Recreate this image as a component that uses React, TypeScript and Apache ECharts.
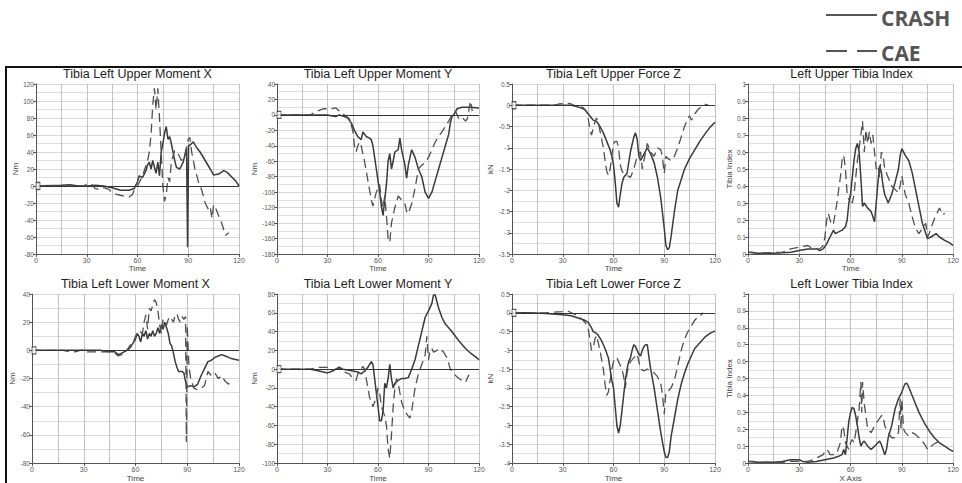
import React, { useEffect, useRef } from "react";
import * as echarts from "echarts";

// ---------- DATA ----------
const titles = [
  "Tibia Left Upper Moment X",
  "Tibia Left Upper Moment Y",
  "Tibia Left Upper Force Z",
  "Left Upper Tibia Index",
  "Tibia Left Lower Moment X",
  "Tibia Left Lower Moment Y",
  "Tibia Left Lower Force Z",
  "Left Lower Tibia Index",
];
const yNames = ["Nm", "Nm", "kN", "Tibia Index", "Nm", "Nm", "kN", "Tibia Index"];
const xNames = ["Time", "Time", "Time", "Time", "Time", "Time", "Time", "X Axis"];
const yMins = [-80, -180, -3.5, 0, -80, -100, -4, 0];
const yMaxs = [120, 40, 0.5, 1, 40, 80, 0.5, 1];
const yIntervals = [20, 20, 0.5, 0.1, 20, 20, 0.5, 0.1];
const timeMin = 0;
const timeMax = 120;
const timeInterval = 30;
const legendNames = ["CRASH", "CAE"];

const upperMxCrash = [[0,0],[15,1],[20,1.5],[25,0],[30,0],[35,1],[40,0],[45,-2],[50,-5],[55,-5],[58,-3],[60,5],[61,12],[63,10],[65,18],[66,25],[67,28],[68,20],[69,30],[70,22],[71,15],[72,28],[73,12],[74,40],[75,50],[76,62],[77,70],[78,55],[79,58],[80,50],[81,40],[82,30],[83,22],[85,20],[87,28],[89,45],[89.6,-72],[90.2,48],[91,48],[93,52],[95,45],[97,40],[100,30],[103,20],[105,13],[108,14],[111,18],[113,16],[116,10],[118,6],[120,0]];
const upperMxCae = [[0,0],[28,0],[30,2],[33,2],[35,-3],[38,-4],[40,-2],[43,-4],[45,-8],[48,-10],[52,-12],[55,-13],[57,-10],[58,-5],[60,0],[63,12],[66,30],[67,40],[68,60],[69,95],[70,115],[71,90],[72,115],[73,80],[74,40],[75,0],[76,-18],[77,-10],[78,10],[79,5],[80,28],[82,42],[84,38],[86,30],[88,35],[90,55],[91,57],[92,40],[94,20],[96,5],[98,-5],[100,-20],[102,-28],[103,-25],[104,-38],[105,-22],[106,-25],[108,-35],[110,-45],[112,-58],[114,-55]];

const upperMyCrash = [[0,0],[30,0],[32,-1],[35,-2],[37,0],[40,-2],[42,-4],[44,-10],[46,-20],[48,-28],[50,-32],[51,-22],[53,-28],[55,-30],[56,-32],[57,-40],[58,-55],[59,-70],[60,-85],[61,-100],[62,-118],[63,-130],[64,-110],[65,-90],[66,-60],[67,-50],[68,-70],[69,-60],[70,-48],[72,-45],[73,-30],[74,-45],[76,-65],[77,-82],[78,-65],[80,-45],[81,-50],[82,-55],[84,-70],[86,-80],[88,-100],[90,-108],[92,-100],[94,-85],[96,-70],[98,-55],[100,-40],[102,-25],[103,-10],[104,-2],[105,0],[107,8],[110,10],[115,10],[120,9]];
const upperMyCae = [[0,0],[20,0],[22,3],[25,6],[28,8],[32,8],[35,9],[37,5],[40,0],[43,-5],[45,-20],[46,-40],[47,-48],[48,-40],[49,-35],[50,-40],[52,-60],[54,-85],[56,-110],[57,-118],[58,-108],[59,-100],[60,-95],[61,-90],[62,-110],[63,-120],[64,-105],[65,-130],[66,-160],[67,-165],[68,-140],[70,-120],[72,-105],[74,-110],[76,-115],[77,-125],[78,-128],[80,-115],[82,-95],[84,-70],[86,-65],[88,-62],[90,-55],[92,-45],[94,-35],[96,-28],[98,-22],[100,-15],[102,-8],[104,0],[105,3],[106,5],[108,-5],[110,-3],[112,-8],[113,-5],[115,18],[116,5]];

const upperFzCrash = [[0,0],[35,0],[38,-0.03],[40,-0.05],[43,-0.1],[45,-0.2],[47,-0.3],[48,-0.35],[50,-0.38],[52,-0.5],[54,-0.65],[56,-0.85],[58,-1.05],[59,-1.2],[60,-1.4],[61,-1.8],[62,-2.3],[63,-2.4],[64,-2.1],[65,-1.85],[66,-1.7],[68,-1.6],[70,-1.1],[72,-0.75],[73,-0.65],[74,-0.8],[75,-1.2],[76,-1.3],[78,-1.15],[80,-1.0],[82,-1.15],[84,-1.35],[86,-1.7],[88,-2.2],[90,-2.9],[91,-3.3],[92,-3.4],[93,-3.35],[94,-3.1],[96,-2.5],[98,-2.0],[100,-1.75],[102,-1.5],[105,-1.25],[108,-1.05],[111,-0.85],[114,-0.68],[117,-0.52],[120,-0.4]];
const upperFzCae = [[0,0],[25,0],[28,0.03],[32,0.05],[35,0.03],[38,-0.02],[42,-0.05],[44,-0.15],[45,-0.3],[46,-0.55],[47,-0.7],[48,-0.55],[49,-0.4],[50,-0.3],[51,-0.4],[52,-0.6],[54,-1.0],[55,-1.3],[56,-1.55],[57,-1.65],[58,-1.5],[59,-1.2],[60,-0.9],[61,-0.85],[62,-0.85],[63,-1.0],[64,-1.4],[65,-1.55],[66,-1.6],[68,-1.65],[70,-1.7],[72,-1.5],[74,-1.2],[76,-1.1],[77,-1.5],[78,-1.3],[79,-1.1],[80,-0.9],[82,-1.1],[84,-1.2],[85,-1.1],[86,-1.0],[88,-1.05],[89,-1.25],[90,-1.6],[91,-1.2],[92,-1.25],[94,-1.3],[96,-1.2],[98,-1.0],[100,-0.75],[102,-0.5],[104,-0.3],[105,-0.25],[106,-0.35],[107,-0.3],[108,-0.2],[110,-0.1],[112,-0.03],[114,0.02],[116,0.0]];

const upperTiCrash = [[0,0.01],[2,0.01],[5,0.005],[15,0.005],[25,0.01],[30,0.02],[35,0.03],[40,0.03],[42,0.02],[44,0.03],[46,0.06],[48,0.1],[50,0.14],[51,0.12],[53,0.13],[55,0.14],[57,0.16],[58,0.2],[59,0.3],[60,0.35],[61,0.45],[62,0.55],[63,0.62],[64,0.65],[65,0.6],[66,0.45],[67,0.28],[68,0.3],[70,0.27],[72,0.25],[73,0.22],[74,0.19],[75,0.3],[76,0.42],[77,0.52],[78,0.48],[79,0.4],[80,0.35],[82,0.3],[84,0.35],[86,0.42],[88,0.5],[89,0.58],[90,0.62],[92,0.58],[94,0.55],[96,0.48],[98,0.38],[100,0.28],[102,0.18],[104,0.12],[105,0.09],[107,0.1],[110,0.12],[112,0.1],[115,0.08],[118,0.065],[120,0.05]];
const upperTiCae = [[0,0.01],[5,0.005],[20,0.01],[25,0.03],[30,0.04],[35,0.05],[38,0.03],[42,0.03],[44,0.05],[45,0.1],[46,0.2],[47,0.24],[48,0.2],[49,0.17],[50,0.18],[52,0.3],[54,0.45],[55,0.55],[56,0.58],[57,0.5],[58,0.35],[59,0.32],[60,0.35],[61,0.3],[62,0.35],[63,0.45],[64,0.55],[65,0.62],[66,0.7],[67,0.78],[68,0.6],[69,0.73],[70,0.65],[71,0.72],[72,0.65],[73,0.7],[74,0.6],[75,0.5],[76,0.52],[77,0.45],[78,0.6],[79,0.58],[80,0.5],[82,0.45],[84,0.4],[86,0.38],[88,0.36],[89,0.4],[90,0.46],[91,0.4],[92,0.35],[94,0.3],[96,0.22],[98,0.15],[100,0.12],[102,0.15],[104,0.18],[105,0.1],[106,0.12],[108,0.18],[110,0.23],[112,0.27],[113,0.25],[114,0.23],[115,0.24]];

const lowerMxCrash = [[0,0],[40,0],[42,-0.5],[45,-1],[48,-1],[50,-3],[52,-2],[55,0],[57,2],[58,4],[60,8],[61,12],[62,10],[63,6],[64,12],[65,10],[66,14],[67,8],[68,12],[69,10],[70,14],[71,10],[72,12],[73,16],[74,12],[75,18],[76,15],[77,20],[78,16],[79,12],[80,5],[81,3],[82,-2],[83,-8],[84,-12],[85,-15],[87,-15],[88,-16],[89,-22],[90,-26],[92,-25],[94,-26],[96,-24],[98,-18],[100,-13],[102,-8],[104,-7],[106,-5],[108,-4],[110,-3],[112,-4],[114,-5],[116,-6],[120,-7]];
const lowerMxCae = [[0,0],[18,0],[20,-0.5],[25,-1],[28,0],[30,0.5],[32,-1],[35,-1],[40,-1],[45,-1],[48,-2],[50,-4],[52,-3],[55,0],[57,4],[58,3],[60,10],[62,14],[64,12],[65,20],[66,25],[67,15],[68,30],[69,28],[70,32],[71,36],[72,34],[73,28],[74,18],[75,12],[76,22],[78,18],[79,22],[80,24],[81,22],[82,20],[83,25],[84,26],[85,22],[86,20],[87,24],[88,22],[89,24],[89.5,-65],[90,18],[91,-12],[92,-20],[94,-27],[96,-28],[98,-27],[100,-25],[101,-20],[102,-15],[104,-18],[106,-16],[108,-20],[110,-18],[112,-22],[114,-24],[115,-22]];

const lowerMyCrash = [[0,0],[20,0],[25,-2],[30,-4],[33,-2],[35,0],[37,2],[39,0],[42,-1],[45,-2],[48,-3],[50,-5],[52,-2],[54,2],[56,8],[57,5],[58,-10],[59,-25],[60,-40],[61,-55],[62,-55],[63,-45],[64,-15],[65,-20],[66,-10],[67,5],[68,-10],[69,-20],[70,-15],[72,-12],[74,-10],[76,-10],[78,-9],[80,0],[82,10],[84,25],[86,40],[88,55],[90,62],[92,70],[93,79],[94,79],[95,72],[96,65],[98,55],[100,48],[103,42],[106,35],[109,28],[112,22],[115,17],[118,13],[120,10]];
const lowerMyCae = [[0,0],[20,0],[25,2],[30,2],[33,-1],[35,0],[37,1],[40,-3],[43,-5],[45,-10],[47,-12],[48,-5],[49,-3],[51,3],[52,0],[53,-10],[55,-30],[56,-35],[57,-40],[58,-35],[59,-30],[60,-20],[61,-25],[62,-40],[64,-50],[65,-60],[66,-85],[67,-95],[68,-70],[69,-40],[70,-20],[71,-10],[72,-15],[74,-35],[76,-45],[78,-50],[79,-52],[80,-45],[82,-20],[84,-5],[86,5],[88,15],[89,35],[90,10],[91,20],[92,22],[93,18],[95,20],[97,22],[99,18],[101,12],[103,0],[105,-5],[108,-10],[110,-12],[112,-14],[114,-6]];

const lowerFzCrash = [[0,0],[10,0],[20,-0.02],[30,-0.05],[35,-0.08],[40,-0.15],[43,-0.2],[45,-0.25],[47,-0.4],[48,-0.5],[50,-0.55],[51,-0.6],[53,-0.75],[55,-0.95],[57,-1.2],[58,-1.5],[59,-1.8],[60,-2.0],[61,-2.5],[62,-3.0],[63,-3.2],[64,-3.0],[65,-2.6],[66,-2.2],[67,-1.8],[68,-1.5],[69,-1.3],[70,-1.2],[71,-1.0],[72,-0.85],[73,-0.9],[74,-1.0],[75,-1.1],[76,-1.15],[77,-1.0],[78,-0.9],[79,-0.85],[80,-0.85],[81,-1.2],[82,-1.5],[84,-2.0],[86,-2.6],[88,-3.2],[90,-3.7],[91,-3.85],[92,-3.85],[93,-3.7],[94,-3.3],[96,-2.8],[98,-2.3],[100,-1.9],[102,-1.6],[104,-1.35],[106,-1.15],[108,-0.95],[110,-0.85],[112,-0.75],[114,-0.65],[117,-0.55],[120,-0.48]];
const lowerFzCae = [[0,0],[20,0],[25,0.02],[30,0.03],[33,0.05],[35,0.0],[38,-0.05],[40,-0.12],[42,-0.2],[44,-0.3],[45,-0.4],[46,-0.7],[47,-1.0],[48,-0.95],[49,-0.7],[50,-0.6],[51,-0.8],[52,-1.0],[54,-1.5],[55,-1.9],[56,-2.2],[57,-2.1],[58,-1.8],[59,-1.5],[60,-1.3],[61,-1.2],[62,-1.2],[63,-1.3],[65,-1.5],[66,-1.7],[67,-2.0],[68,-1.6],[69,-1.4],[70,-1.3],[72,-1.2],[74,-1.1],[75,-1.3],[76,-1.5],[78,-1.55],[80,-1.5],[82,-1.55],[84,-1.6],[86,-1.7],[88,-1.9],[89,-2.2],[90,-2.7],[91,-2.1],[92,-2.1],[94,-2.0],[96,-1.8],[98,-1.4],[100,-1.0],[102,-0.7],[104,-0.5],[106,-0.35],[108,-0.2],[110,-0.1],[112,-0.05],[113,0.0]];

const lowerTiCrash = [[0,0.01],[3,0.01],[5,0.005],[15,0.005],[20,0.01],[25,0.02],[30,0.02],[32,0.01],[35,0.005],[40,0.01],[45,0.02],[50,0.03],[53,0.04],[55,0.05],[56,0.08],[57,0.05],[58,0.15],[59,0.25],[60,0.3],[61,0.33],[62,0.32],[63,0.28],[64,0.22],[65,0.15],[66,0.1],[67,0.12],[68,0.13],[70,0.1],[72,0.08],[74,0.1],[76,0.12],[77,0.13],[78,0.11],[79,0.08],[80,0.05],[81,0.08],[82,0.15],[84,0.22],[86,0.32],[88,0.38],[90,0.42],[91,0.45],[92,0.47],[93,0.47],[94,0.45],[96,0.4],[98,0.35],[100,0.3],[103,0.24],[106,0.19],[109,0.15],[112,0.12],[115,0.1],[118,0.08],[120,0.07]];
const lowerTiCae = [[0,0.01],[5,0.005],[20,0.005],[25,0.01],[35,0.01],[38,0.02],[40,0.03],[42,0.04],[44,0.05],[45,0.07],[46,0.08],[47,0.07],[48,0.05],[50,0.05],[52,0.06],[54,0.12],[55,0.22],[56,0.2],[57,0.12],[58,0.1],[59,0.08],[60,0.12],[61,0.14],[62,0.12],[63,0.18],[64,0.25],[65,0.32],[66,0.48],[66.5,0.3],[67,0.48],[68,0.35],[69,0.28],[70,0.2],[72,0.18],[74,0.22],[76,0.25],[78,0.28],[79,0.28],[80,0.22],[82,0.18],[84,0.15],[86,0.15],[88,0.18],[89,0.38],[89.5,0.2],[90,0.38],[91,0.2],[92,0.18],[94,0.16],[96,0.18],[98,0.17],[100,0.15],[102,0.13],[104,0.1],[105,0.08],[107,0.1],[110,0.12],[112,0.13]];

const crashSeries = [upperMxCrash, upperMyCrash, upperFzCrash, upperTiCrash, lowerMxCrash, lowerMyCrash, lowerFzCrash, lowerTiCrash];
const caeSeries = [upperMxCae, upperMyCae, upperFzCae, upperTiCae, lowerMxCae, lowerMyCae, lowerFzCae, lowerTiCae];
const hasZeroLine = [true, true, true, false, true, true, true, false];

// ---------- LAYOUT ----------
const gridRects = [
  { left: 36, top: 84, right: 239 },
  { left: 277, top: 84, right: 479 },
  { left: 512, top: 84, right: 715 },
  { left: 748, top: 84, right: 955 },
  { left: 32, top: 294, right: 239 },
  { left: 277, top: 294, right: 479 },
  { left: 512, top: 294, right: 715 },
  { left: 748, top: 294, right: 955 },
];
const plotH = 170;
const yNameGaps = [17, 18, 16, 12, 13, 19, 16, 12];

const FONT = "'Liberation Sans', Arial, sans-serif";
const LINE = "#3a3a3a";

export default function App() {
  const ref = useRef<HTMLDivElement>(null);
  useEffect(() => {
    if (!ref.current) return;
    const chart = echarts.init(ref.current, undefined, { renderer: "svg" });

    const grid = gridRects.map((g) => ({
      left: g.left,
      top: g.top,
      width: g.right - g.left,
      height: plotH,
      containLabel: false,
    }));

    const xAxis = gridRects.map((_, i) => ({
      type: "value",
      gridIndex: i,
      min: timeMin,
      max: timeMax,
      interval: timeInterval,
      name: xNames[i],
      nameLocation: "middle",
      nameGap: 10,
      nameTextStyle: { fontSize: 8, color: "#444", fontFamily: FONT },
      axisLine: { show: true, onZero: false, lineStyle: { color: "#555", width: 1 } },
      axisTick: { show: true, length: 3, lineStyle: { color: "#555" } },
      axisLabel: { fontSize: 7, color: "#555", margin: 3, fontFamily: FONT },
      splitLine: { show: true, lineStyle: { color: "#c2c2c2", width: 1 } },
      minorTick: { show: false, splitNumber: 2 },
      minorSplitLine: { show: true, lineStyle: { color: "#c2c2c2", width: 1 } },
    }));

    const yAxis = gridRects.map((_, i) => ({
      type: "value",
      gridIndex: i,
      min: yMins[i],
      max: yMaxs[i],
      interval: yIntervals[i],
      name: yNames[i],
      nameLocation: "middle",
      nameGap: yNameGaps[i],
      nameRotate: 90,
      nameTextStyle: { fontSize: 8, color: "#444", fontFamily: FONT },
      axisLine: { show: true, onZero: false, lineStyle: { color: "#555", width: 1 } },
      axisTick: { show: true, length: 3, lineStyle: { color: "#555" } },
      axisLabel: { fontSize: 6.5, color: "#555", margin: 2, fontFamily: FONT },
      splitLine: { show: true, lineStyle: { color: "#d6d6d6", width: 1 } },
      minorTick: { show: false, splitNumber: 2 },
      minorSplitLine: { show: true, lineStyle: { color: "#dedede", width: 1 } },
    }));

    const series: any[] = [];
    gridRects.forEach((_, i) => {
      series.push({
        type: "line",
        name: legendNames[0],
        xAxisIndex: i,
        yAxisIndex: i,
        data: crashSeries[i],
        showSymbol: false,
        symbol: "none",
        lineStyle: { color: LINE, width: 1.5 },
        z: 3,
        markLine: hasZeroLine[i]
          ? {
              silent: true,
              symbol: "none",
              label: { show: false },
              lineStyle: { color: "#333", width: 1, type: "solid" },
              data: [{ yAxis: 0 }],
            }
          : undefined,
      });
      series.push({
        type: "line",
        name: legendNames[1],
        xAxisIndex: i,
        yAxisIndex: i,
        data: caeSeries[i],
        showSymbol: false,
        symbol: "none",
        lineStyle: { color: "#505050", width: 1.3, type: [9, 5] },
        z: 3,
      });
      if (hasZeroLine[i]) {
        series.push({
          type: "scatter",
          xAxisIndex: i,
          yAxisIndex: i,
          data: [[0, 0]],
          symbol: "rect",
          symbolSize: [4, 7],
          symbolOffset: [2, 0],
          itemStyle: { color: "#fff", borderColor: "#333", borderWidth: 1 },
          silent: true,
          z: 5,
          clip: false,
        });
      }
    });

    const titleTexts = gridRects.map((g, i) => ({
      type: "text",
      x: (g.left + g.right) / 2,
      y: i < 4 ? 74 : 284,
      silent: true,
      style: {
        text: titles[i],
        align: "center",
        verticalAlign: "middle",
        fontSize: 12.5,
        fontFamily: FONT,
        fill: "#1e1e1e",
      },
    }));

    const legendFont = "'Open Sans', 'Noto Sans', sans-serif";
    const graphic: any[] = [
      {
        type: "polyline",
        silent: true,
        shape: { points: [[6, 484], [6, 67], [963, 67]] },
        style: { stroke: "#111", lineWidth: 2, fill: "none" },
      },
      {
        type: "line",
        silent: true,
        shape: { x1: 826, y1: 15, x2: 877, y2: 15 },
        style: { stroke: "#555", lineWidth: 2 },
      },
      {
        type: "line",
        silent: true,
        shape: { x1: 826, y1: 51, x2: 847, y2: 51 },
        style: { stroke: "#555", lineWidth: 2 },
      },
      {
        type: "line",
        silent: true,
        shape: { x1: 857, y1: 51, x2: 877, y2: 51 },
        style: { stroke: "#555", lineWidth: 2 },
      },
      {
        type: "text",
        silent: true,
        x: 881,
        y: 18,
        style: {
          text: legendNames[0],
          align: "left",
          verticalAlign: "middle",
          fontSize: 21,
          fontWeight: "bold",
          fontFamily: legendFont,
          fill: "#555",
        },
      },
      {
        type: "text",
        silent: true,
        x: 881,
        y: 53,
        style: {
          text: legendNames[1],
          align: "left",
          verticalAlign: "middle",
          fontSize: 21,
          fontWeight: "bold",
          fontFamily: legendFont,
          fill: "#555",
        },
      },
      ...titleTexts,
    ];

    chart.setOption({
      animation: false,
      backgroundColor: "#fff",
      grid,
      xAxis,
      yAxis,
      series,
      graphic,
    } as any);

    return () => chart.dispose();
  }, []);

  return (
    <div
      ref={ref}
      style={{ position: "fixed", left: 0, top: 0, width: 962, height: 483, background: "#fff" }}
    />
  );
}
